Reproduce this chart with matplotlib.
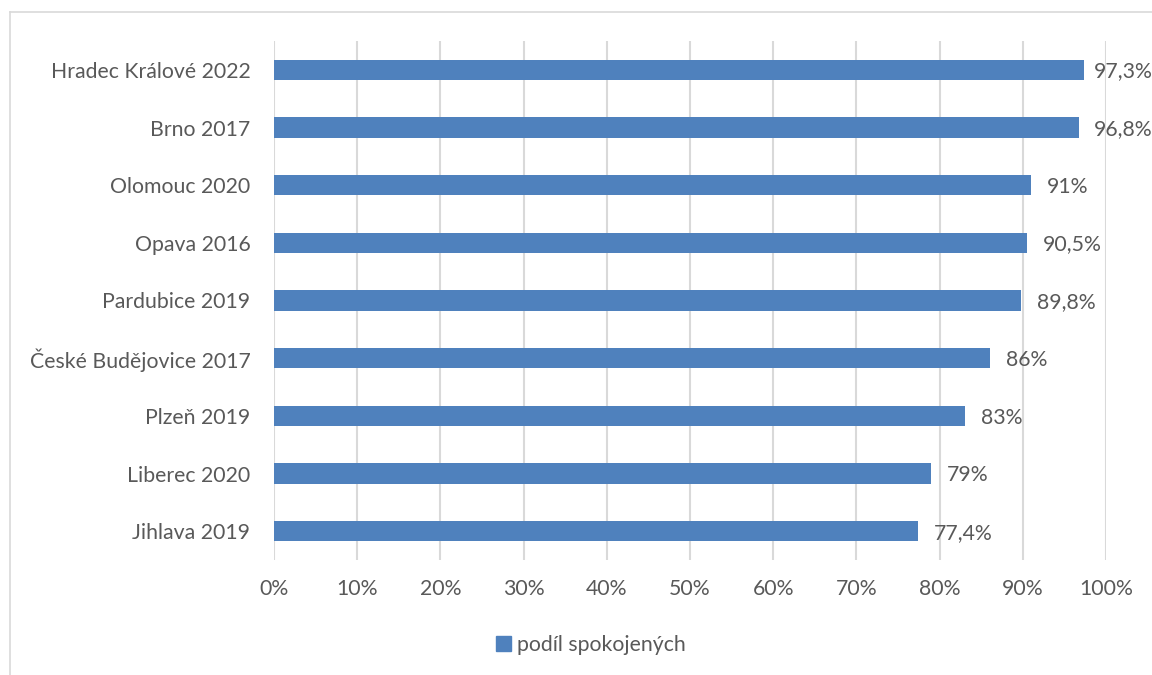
import matplotlib
matplotlib.use("Agg")
import matplotlib.pyplot as plt
from matplotlib.patches import Rectangle
from matplotlib.lines import Line2D

categories = ["Hradec Králové 2022", "Brno 2017", "Olomouc 2020", "Opava 2016",
              "Pardubice 2019", "České Budějovice 2017", "Plzeň 2019",
              "Liberec 2020", "Jihlava 2019"]
values = [97.3, 96.8, 91, 90.5, 89.8, 86, 83, 79, 77.4]
value_labels = ["97,3%", "96,8%", "91%", "90,5%", "89,8%", "86%", "83%", "79%", "77,4%"]
xticks = [0, 10, 20, 30, 40, 50, 60, 70, 80, 90, 100]
xtick_labels = [f"{t}%" for t in xticks]
series_name = "podíl spokojených"

plt.rcParams['font.family'] = ['Lato', 'DejaVu Sans']
TXT = "#595959"
BAR = "#4F81BD"
GRID = "#D9D9D9"
FS = 15.3

W, H = 1152, 675
fig = plt.figure(figsize=(W / 100, H / 100), dpi=100)

# chart area border (left + top visible)
fig.add_artist(Line2D([10 / W, 10 / W], [0, 1 - 12 / H], transform=fig.transFigure,
                      color=GRID, lw=1.2))
fig.add_artist(Line2D([10 / W, 1], [1 - 12 / H, 1 - 12 / H], transform=fig.transFigure,
                      color=GRID, lw=1.2))

x0, x1 = 274, 1106
y_top, y_bot = 41, 560
ax = fig.add_axes([x0 / W, 1 - y_bot / H, (x1 - x0) / W, (y_bot - y_top) / H])

ypos = list(range(len(categories)))
ax.barh(ypos, values, height=0.35, color=BAR, zorder=3)
ax.set_ylim(len(categories) - 0.5, -0.5)
ax.set_xlim(0, 100)

# labels sit ~16 px right of the bar end, but are kept inside the chart area
px = 100 / (x1 - x0)
max_x = (1094 - x0) * px
for y, v, lab in zip(ypos, values, value_labels):
    ax.text(min(v + 16 * px, max_x), y + 0.03, lab, va="center", ha="left",
            fontsize=FS, color=TXT, clip_on=False)

ax.set_xticks(xticks)
ax.set_xticklabels(xtick_labels, fontsize=FS, color=TXT)
ax.set_yticks(ypos)
ax.set_yticklabels(categories, fontsize=FS, color=TXT)
ax.tick_params(axis="both", length=0)
ax.tick_params(axis="x", pad=14)
ax.tick_params(axis="y", pad=17)
for s in ax.spines.values():
    s.set_visible(False)
ax.grid(axis="x", color=GRID, lw=1.5, zorder=0)
ax.set_axisbelow(True)

# legend
handle = Rectangle((0, 0), 1, 1, color=BAR)
fig.legend([handle], [series_name], loc="center", bbox_to_anchor=(591 / W, 1 - 645 / H),
           frameon=False, fontsize=FS, labelcolor=TXT, handlelength=0.7,
           handleheight=0.7, handletextpad=0.3)

fig.savefig("out.png", dpi=100, facecolor="white")
